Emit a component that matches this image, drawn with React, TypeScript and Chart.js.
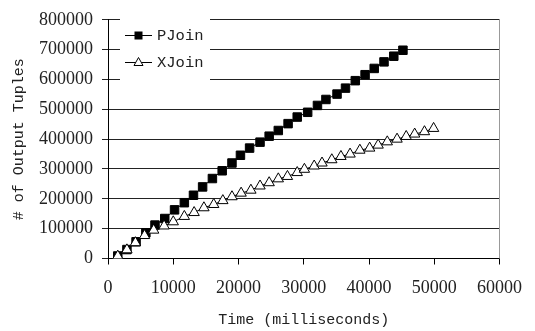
import React, { useEffect, useRef } from "react";
import { Chart, registerables } from "chart.js";

Chart.register(...registerables);

const pjoinTime = [1500, 2900, 4300, 5800, 7200, 8700, 10200, 11700, 13100, 14500, 16000, 17500, 19000, 20300, 21700, 23300, 24700, 26100, 27600, 29000, 30600, 32100, 33400, 35100, 36400, 37900, 39400, 40800, 42300, 43800, 45200];
const pjoinTuples = [8500, 30000, 56000, 86000, 112000, 134000, 163000, 187000, 212000, 240000, 268000, 294000, 320000, 346000, 370000, 390000, 410000, 429000, 452000, 474000, 490000, 513000, 533000, 551000, 571000, 596000, 616000, 637000, 659000, 678000, 698000];

const xjoinTime = [1500, 2900, 4200, 5600, 7000, 8600, 10000, 11700, 13200, 14700, 16200, 17600, 19000, 20400, 21900, 23300, 24700, 26100, 27500, 29000, 30100, 31600, 32800, 34300, 35700, 37100, 38600, 40100, 41400, 42800, 44300, 45700, 47000, 48500, 49900];
const xjoinTuples = [8000, 29000, 53000, 77000, 95000, 109000, 123000, 141000, 154000, 170000, 181000, 194000, 207000, 219000, 229000, 243000, 254000, 267000, 275000, 288000, 299000, 310000, 320000, 331000, 342000, 350000, 363000, 370000, 380000, 391000, 400000, 409000, 417000, 425000, 436000];

const seriesNames = ["PJoin", "XJoin"];
const xTitle = "Time (milliseconds)";
const yTitle = "# of Output Tuples";

const toPoints = (xs: number[], ys: number[]) => xs.map((x, i) => ({ x, y: ys[i] }));

const legendPlugin = {
  id: "insideLegend",
  afterDraw(chart: any) {
    const ctx = chart.ctx as CanvasRenderingContext2D;
    ctx.save();
    ctx.fillStyle = "#fff";
    ctx.fillRect(120, 18, 90, 62);
    const rows = [35, 62];
    chart.data.datasets.forEach((ds: any, i: number) => {
      const y = rows[i];
      ctx.strokeStyle = "#000";
      ctx.lineWidth = 1;
      ctx.beginPath();
      ctx.moveTo(125, y + 0.5);
      ctx.lineTo(152, y + 0.5);
      ctx.stroke();
      const cx = 138.5;
      if (ds.pointStyle === "rect") {
        ctx.fillStyle = "#000";
        ctx.fillRect(cx - 4, y - 3.5, 8, 8);
      } else {
        ctx.fillStyle = "#fff";
        ctx.beginPath();
        ctx.moveTo(cx, y - 4.5);
        ctx.lineTo(cx + 4.5, y + 3.5);
        ctx.lineTo(cx - 4.5, y + 3.5);
        ctx.closePath();
        ctx.fill();
        ctx.stroke();
      }
      ctx.fillStyle = "#222";
      ctx.font = "15.5px 'Liberation Mono'";
      ctx.textAlign = "left";
      ctx.textBaseline = "middle";
      ctx.fillText(ds.label, 157, y + 1);
    });
    ctx.restore();
  },
};

const borderPlugin = {
  id: "rightBorder",
  afterDraw(chart: any) {
    const { ctx, chartArea } = chart;
    ctx.save();
    ctx.strokeStyle = "#999";
    ctx.lineWidth = 1;
    ctx.beginPath();
    ctx.moveTo(Math.round(chartArea.right) - 0.5, chartArea.top);
    ctx.lineTo(Math.round(chartArea.right) - 0.5, chartArea.bottom);
    ctx.stroke();
    ctx.restore();
  },
};

export default function App() {
  const ref = useRef<HTMLCanvasElement>(null);
  useEffect(() => {
    if (!ref.current) return;
    const chart = new Chart(ref.current, {
      type: "line",
      data: {
        datasets: [
          {
            label: seriesNames[0],
            data: toPoints(pjoinTime, pjoinTuples),
            borderColor: "#000",
            borderWidth: 1,
            pointStyle: "rect",
            pointRadius: 6,
            pointBackgroundColor: "#000",
            pointBorderColor: "#000",
            pointBorderWidth: 1,
            fill: false,
            order: 1,
          },
          {
            label: seriesNames[1],
            data: toPoints(xjoinTime, xjoinTuples),
            borderColor: "#000",
            borderWidth: 1,
            pointStyle: "triangle",
            pointRadius: 6,
            pointBackgroundColor: "#fff",
            pointBorderColor: "#000",
            pointBorderWidth: 1,
            fill: false,
            order: 0,
          },
        ],
      },
      options: {
        animation: false,
        responsive: false,
        devicePixelRatio: 1,
        layout: { padding: { top: 9, right: 24, left: 0, bottom: 0 } },
        plugins: { legend: { display: false }, tooltip: { enabled: false } },
        scales: {
          x: {
            type: "linear",
            min: 0,
            max: 60000,
            afterFit: (s: any) => { s.height = 72.5; },
            ticks: {
              stepSize: 10000,
              color: "#222",
              padding: 13,
              maxRotation: 0,
              font: { family: "'Liberation Serif'", size: 18 },
              callback: (v: any) => String(v),
            },
            grid: { drawOnChartArea: false, drawTicks: true, tickLength: 6, color: "#000" },
            border: { color: "#000" },
            title: {
              display: true,
              text: xTitle,
              color: "#222",
              font: { family: "'Liberation Mono'", size: 15 },
              padding: { top: 0, bottom: 2 },
            },
          },
          y: {
            type: "linear",
            min: 0,
            max: 800000,
            afterFit: (s: any) => { s.width = 108; },
            ticks: {
              stepSize: 100000,
              color: "#222",
              padding: 9,
              font: { family: "'Liberation Serif'", size: 18 },
              callback: (v: any) => String(v),
            },
            grid: { drawOnChartArea: true, drawTicks: true, tickLength: 6, color: "#222" },
            border: { color: "#000" },
            title: {
              display: true,
              text: yTitle,
              color: "#222",
              font: { family: "'Liberation Mono'", size: 15 },
              padding: { top: 10, bottom: 0 },
            },
          },
        },
      },
      plugins: [legendPlugin, borderPlugin],
    });
    return () => chart.destroy();
  }, []);
  return (
    <div style={{ position: "fixed", left: 0, top: 0, width: 535, height: 331, background: "#fff" }}>
      <canvas ref={ref} width={535} height={331} />
    </div>
  );
}
